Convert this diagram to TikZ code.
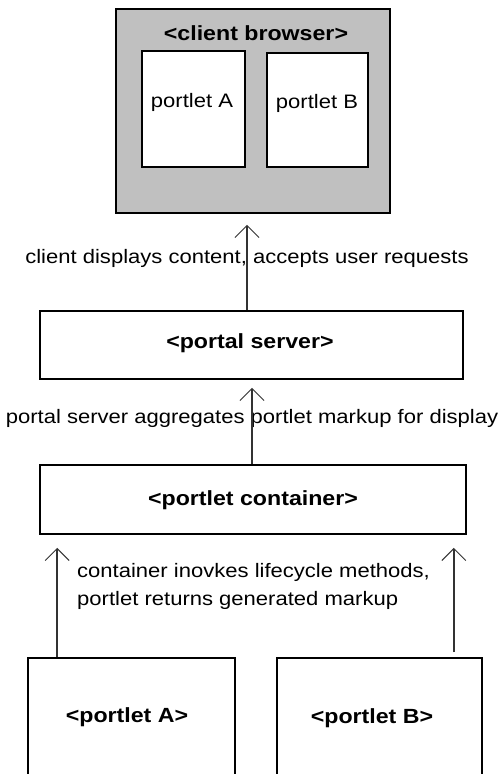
\documentclass[tikz,border=0pt]{standalone}
\usepackage{fontspec}
\setmainfont{Liberation Sans}[FakeStretch=1.13]
\usetikzlibrary{arrows.meta}
\definecolor{winGray}{HTML}{C0C0C0}
\begin{document}
\begin{tikzpicture}[x=1pt,y=-1pt,
  box/.style={draw=black, line width=1.6pt, fill=white, inner sep=0pt},
  arr/.style={draw=black!80, line width=1.6pt, -{Straight Barb[length=12pt,width=24pt,line width=1pt]}},
  txt/.style={inner sep=0pt, font=\fontsize{19.5}{28}\selectfont},
  ttl/.style={inner sep=0pt, font=\fontsize{20.5}{24}\selectfont\bfseries}]
\clip (0,0) rectangle (501,774);
\fill[white] (0,0) rectangle (501,774);
% client browser
\node[box, fill=winGray, minimum width=274pt, minimum height=204pt] (browser) at (253,111) {};
\node[ttl] (browsertitle) at (256,33) {<client browser>};
\node[box, minimum width=103pt, minimum height=116pt] (inA) at (193.5,109) {};
\node[box, minimum width=101pt, minimum height=114pt] (inB) at (317.5,110) {};
\node[txt] (inAtext) at (192,102) {portlet A};
\node[txt] (inBtext) at (317,103) {portlet B};
% portal server
\node[box, minimum width=423pt, minimum height=68pt] (server) at (251.5,345) {};
\node[ttl] (servertext) at (250,343) {<portal server>};
% portlet container
\node[box, minimum width=426pt, minimum height=69pt] (container) at (253,499.5) {};
\node[ttl] (containertext) at (253,500) {<portlet container>};
% portlets
\node[box, minimum width=207pt, minimum height=140pt] (pA) at (131.5,728) {};
\node[box, minimum width=205pt, minimum height=140pt] (pB) at (379.5,728) {};
\node[ttl] (pAtext) at (127,717) {<portlet A>};
\node[ttl] (pBtext) at (372,718) {<portlet B>};
% labels
\node[txt] (lab1) at (247,258) {client displays content, accepts user requests};
\node[txt] (lab2) at (252,418) {portal server aggregates portlet markup for display};
\node[txt, anchor=west, align=left] (lab3) at (77,586) {container inovkes lifecycle methods,\\portlet returns generated markup};
% connectors
\coordinate (aBase) at ([xshift=30pt]pA.north west);
\coordinate (bBase) at ([xshift=-29pt]pB.north east);
\draw[arr, shorten >=11pt] ([xshift=-4.5pt]server.north) -- ([xshift=-6pt]browser.south);
\draw[arr, shorten >=8pt] ([xshift=-1pt]container.north) -- ([xshift=0.5pt]server.south);
\draw[arr, shorten >=13pt] (aBase) -- (aBase |- container.south);
\draw[arr, shorten <=5pt, shorten >=13pt] (bBase) -- (bBase |- container.south);
\end{tikzpicture}
\end{document}
